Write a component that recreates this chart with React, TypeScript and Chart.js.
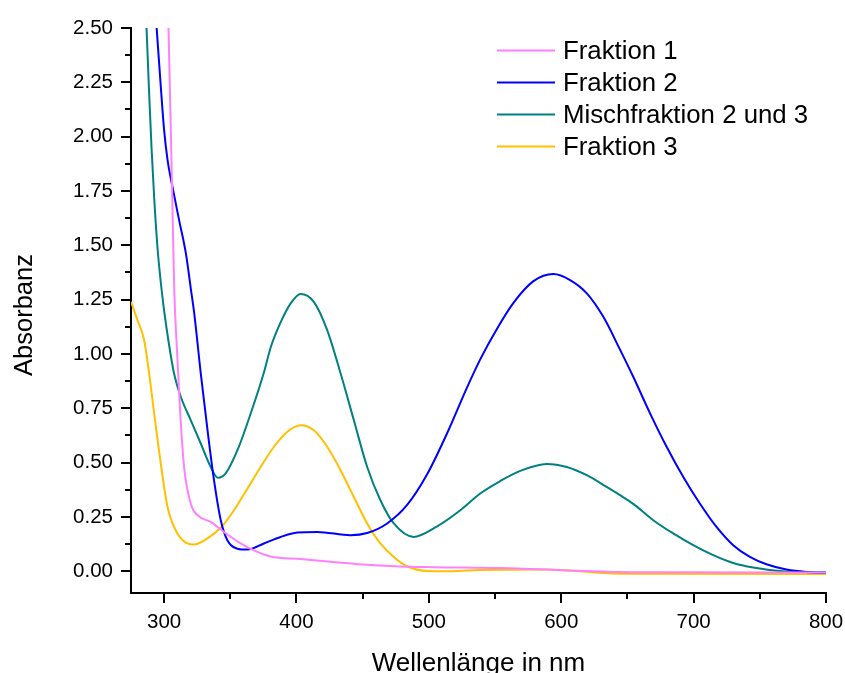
import React, { useEffect, useRef } from 'react';
import { Chart, registerables } from 'chart.js';

Chart.register(...registerables);

const FONT = '"Liberation Sans", Arial, Helvetica, sans-serif';

// Fraktion 1
const f1X = [303.3, 304.9, 306.0, 307.7, 309.6, 312.2, 315.1, 320.1, 325.2, 335.2, 345.2, 357.8, 370.4, 380.5, 403.1, 428.2, 453.4, 478.5, 503.6, 553.9, 644.4, 700, 800];
const f1Y = [2.507, 2.077, 1.77, 1.29, 1.033, 0.726, 0.48, 0.312, 0.258, 0.227, 0.181, 0.128, 0.089, 0.068, 0.056, 0.043, 0.03, 0.022, 0.019, 0.015, -0.003, -0.005, -0.006];

// Fraktion 2
const f2X = [294.3, 297.5, 300, 302.6, 306.3, 311.3, 316.4, 320.2, 322.7, 327.7, 332.8, 337.7, 342.8, 347.8, 355.4, 362.9, 375.4, 388.0, 400.6, 415.7, 440.8, 453.4, 468.5, 483.6, 498.6, 513.7, 528.8, 538.8, 551.4, 563.9, 579.0, 594.1, 606.7, 619.3, 631.8, 644.4, 654.4, 667.0, 679.6, 692.2, 704.7, 717.3, 729.9, 742.5, 755.0, 770.1, 785.2, 800];
const f2Y = [2.507, 2.231, 2.031, 1.893, 1.77, 1.617, 1.465, 1.3, 1.19, 0.911, 0.649, 0.419, 0.235, 0.143, 0.104, 0.1, 0.128, 0.158, 0.178, 0.181, 0.166, 0.176, 0.22, 0.305, 0.445, 0.634, 0.845, 0.975, 1.115, 1.235, 1.335, 1.368, 1.34, 1.279, 1.171, 1.02, 0.895, 0.728, 0.573, 0.434, 0.312, 0.204, 0.12, 0.066, 0.032, 0.008, -0.003, -0.006];

// Mischfraktion 2 und 3
const f23X = [286.7, 288.7, 290.5, 292.5, 295.0, 297.5, 298.8, 300, 303.8, 307.5, 312.6, 320.1, 327.7, 335.2, 340.7, 346.5, 355.4, 365.4, 375.4, 380.5, 388.0, 395.6, 403.1, 413.1, 423.2, 433.3, 443.3, 453.4, 463.4, 473.5, 488.6, 503.6, 523.8, 538.8, 553.9, 569.0, 589.1, 604.2, 619.3, 634.3, 644.4, 654.4, 669.5, 684.6, 699.7, 714.8, 729.9, 745.0, 765.2, 800];
const f23Y = [2.507, 2.2, 1.95, 1.72, 1.49, 1.33, 1.26, 1.2, 1.04, 0.911, 0.803, 0.696, 0.588, 0.48, 0.43, 0.45, 0.557, 0.726, 0.915, 1.03, 1.145, 1.233, 1.276, 1.24, 1.11, 0.911, 0.696, 0.48, 0.327, 0.22, 0.158, 0.197, 0.281, 0.358, 0.415, 0.462, 0.494, 0.48, 0.442, 0.388, 0.35, 0.31, 0.235, 0.174, 0.12, 0.074, 0.038, 0.017, 0.001, -0.006];

// Fraktion 3
const f3X = [275, 279.9, 284.9, 288.7, 292.5, 297.5, 302.6, 310.1, 317.6, 322.7, 332.7, 342.8, 352.8, 362.9, 372.9, 383.0, 393.1, 403.1, 413.1, 423.2, 433.3, 443.3, 453.4, 463.4, 473.5, 483.6, 498.6, 513.7, 533.8, 589.1, 644.4, 800];
const f3Y = [1.24, 1.156, 1.064, 0.911, 0.726, 0.496, 0.296, 0.174, 0.128, 0.123, 0.151, 0.2, 0.281, 0.38, 0.48, 0.573, 0.642, 0.672, 0.649, 0.573, 0.465, 0.342, 0.22, 0.128, 0.066, 0.023, 0.001, 0.0, 0.005, 0.008, -0.011, -0.012];

const SERIES_NAMES = ['Fraktion 1', 'Fraktion 2', 'Mischfraktion 2 und 3', 'Fraktion 3'];
const SERIES_COLORS = ['#FF80FF', '#0000FF', '#008080', '#FFC000'];

const X_TICKS = [300, 400, 500, 600, 700, 800];
const X_MINOR = [350, 450, 550, 650, 750];
const Y_TICKS = [0, 0.25, 0.5, 0.75, 1.0, 1.25, 1.5, 1.75, 2.0, 2.25, 2.5];
const Y_MINOR = [0.125, 0.375, 0.625, 0.875, 1.125, 1.375, 1.625, 1.875, 2.125, 2.375];

const X_TITLE = 'Wellenlänge in nm';
const Y_TITLE = 'Absorbanz';

function pts(xs: number[], ys: number[]) {
  return xs.map((x, i) => ({ x, y: ys[i] }));
}

const minorTicksPlugin = {
  id: 'minorTicks',
  afterDraw(chart: any) {
    const ctx = chart.ctx;
    const xs = chart.scales.x;
    const ys = chart.scales.y;
    ctx.save();
    ctx.strokeStyle = '#000';
    ctx.lineWidth = 2;
    ctx.beginPath();
    X_MINOR.forEach((v) => {
      const p = Math.round(xs.getPixelForValue(v));
      ctx.moveTo(p, chart.chartArea.bottom);
      ctx.lineTo(p, chart.chartArea.bottom + 6);
    });
    Y_MINOR.forEach((v) => {
      const p = Math.round(ys.getPixelForValue(v));
      ctx.moveTo(chart.chartArea.left, p);
      ctx.lineTo(chart.chartArea.left - 6, p);
    });
    ctx.stroke();
    ctx.restore();
  },
};

const yTitlePlugin = {
  id: 'yTitle',
  afterDraw(chart: any) {
    const ctx = chart.ctx;
    ctx.save();
    ctx.font = `25.5px ${FONT}`;
    ctx.fillStyle = '#000';
    ctx.textAlign = 'center';
    ctx.textBaseline = 'middle';
    ctx.translate(25, 315);
    ctx.rotate(-Math.PI / 2);
    ctx.fillText(Y_TITLE, 0, 0);
    ctx.restore();
  },
};

const legendPlugin = {
  id: 'innerLegend',
  afterDraw(chart: any) {
    const ctx = chart.ctx;
    ctx.save();
    ctx.font = `25.8px ${FONT}`;
    ctx.textBaseline = 'middle';
    ctx.textAlign = 'left';
    chart.data.datasets.forEach((ds: any, i: number) => {
      const y = 50.5 + i * 32;
      ctx.strokeStyle = ds.borderColor;
      ctx.lineWidth = 2;
      ctx.beginPath();
      ctx.moveTo(497, y);
      ctx.lineTo(555, y);
      ctx.stroke();
      ctx.fillStyle = '#000';
      ctx.fillText(ds.label, 563, y + 1.5);
    });
    ctx.restore();
  },
};

export default function App() {
  const ref = useRef<HTMLCanvasElement | null>(null);

  useEffect(() => {
    if (!ref.current) return;
    const data = [pts(f1X, f1Y), pts(f2X, f2Y), pts(f23X, f23Y), pts(f3X, f3Y)];
    const chart = new Chart(ref.current, {
      type: 'line',
      data: {
        datasets: data.map((d, i) => ({
          label: SERIES_NAMES[i],
          data: d,
          borderColor: SERIES_COLORS[i],
          backgroundColor: SERIES_COLORS[i],
          borderWidth: 2,
          pointRadius: 0,
          fill: false,
          cubicInterpolationMode: 'monotone' as const,
          clip: { left: 0, top: 0, right: 2, bottom: 2 },
        })),
      },
      options: {
        animation: false,
        responsive: true,
        maintainAspectRatio: false,
        layout: { padding: { left: 0, top: 28, right: 19, bottom: 0 } },
        plugins: { legend: { display: false }, tooltip: { enabled: false } },
        scales: {
          x: {
            type: 'linear',
            min: 275,
            max: 800,
            afterBuildTicks: (s: any) => {
              s.ticks = X_TICKS.map((v) => ({ value: v }));
            },
            afterFit: (s: any) => {
              s.height = 80;
              s.paddingRight = 0;
              s.paddingLeft = 0;
            },
            grid: {
              drawOnChartArea: false,
              drawTicks: true,
              tickLength: 10,
              color: '#000',
              lineWidth: 2,
            },
            border: { display: true, color: '#000', width: 2 },
            ticks: {
              color: '#000',
              font: { family: FONT, size: 20.5 },
              padding: 7,
              maxRotation: 0,
              callback: (v: any) => String(v),
            },
            title: {
              display: true,
              text: X_TITLE,
              color: '#000',
              font: { family: FONT, size: 26, lineHeight: 0.7 },
              padding: { top: 0, bottom: 0 },
            },
          },
          y: {
            type: 'linear',
            min: -0.1,
            max: 2.5,
            afterBuildTicks: (s: any) => {
              s.ticks = Y_TICKS.map((v) => ({ value: v }));
            },
            afterFit: (s: any) => {
              s.width = 131;
            },
            grid: {
              drawOnChartArea: false,
              drawTicks: true,
              tickLength: 10,
              color: '#000',
              lineWidth: 2,
            },
            border: { display: true, color: '#000', width: 2 },
            ticks: {
              color: '#000',
              font: { family: FONT, size: 20.5 },
              padding: 8,
              callback: (v: any) => Number(v).toFixed(2),
            },
            title: { display: false },
          },
        },
      },
      plugins: [minorTicksPlugin, yTitlePlugin, legendPlugin],
    });
    return () => chart.destroy();
  }, []);

  return (
    <div style={{ position: 'fixed', left: 0, top: 0, width: 845, height: 673, background: '#fff' }}>
      <canvas ref={ref} />
    </div>
  );
}
